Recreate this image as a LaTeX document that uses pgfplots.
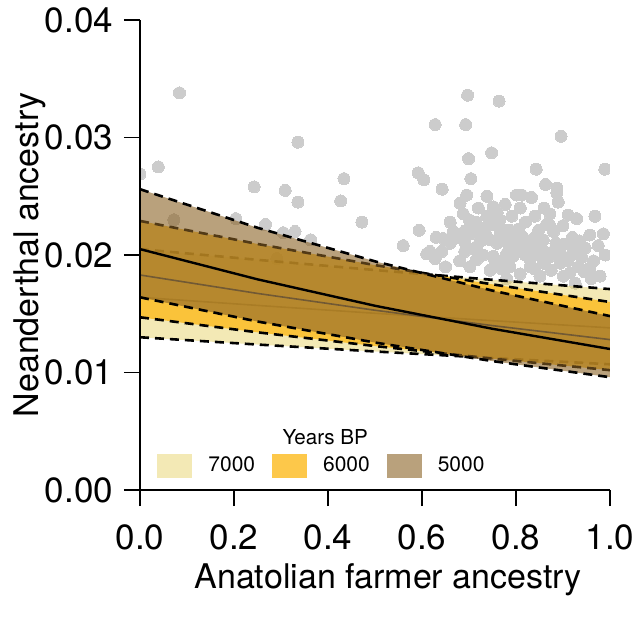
\documentclass[border=0pt]{standalone}
\usepackage{fontspec}
\setmainfont{TeX Gyre Heros}
\usepackage{pgfplots}
\pgfplotsset{compat=1.18}
\definecolor{c7}{RGB}{231,211,107}
\definecolor{c6}{RGB}{252,186,29}
\definecolor{c5}{RGB}{138,98,37}
\definecolor{l7}{RGB}{243,233,181}
\definecolor{l6}{RGB}{253,200,74}
\definecolor{l5}{RGB}{185,161,124}
\definecolor{pts}{RGB}{204,204,204}
\begin{document}
\begin{tikzpicture}
\useasboundingbox (-70pt,-64pt) rectangle (246.5pt,245pt);
\begin{axis}[
  at={(0,0)}, anchor=south west,
  scale only axis, width=235pt, height=235pt,
  xmin=0, xmax=1, ymin=0, ymax=0.04,
  axis lines*=left,
  axis on top,
  clip marker paths=true,
  tick align=outside,
  major tick length=8pt,
  xtick={0,0.2,0.4,0.6,0.8,1},
  ytick={0,0.01,0.02,0.03,0.04},
  scaled y ticks=false, scaled x ticks=false,
  /pgf/number format/assume math mode=true,
  xticklabel style={yshift=-6pt,/pgf/number format/.cd,fixed,fixed zerofill,precision=1},
  yticklabel style={xshift=-2pt,/pgf/number format/.cd,fixed,fixed zerofill,precision=2},
  tick label style={font=\fontsize{17.5}{20}\selectfont},
  axis line style={line width=0.9pt},
  tick style={line width=0.9pt, black},
  every axis x label/.style={at={(axis description cs:0.528,-0.19)}, anchor=center},
  every axis y label/.style={at={(axis description cs:-0.234,0.5)}, rotate=90, anchor=center},
  label style={font=\fontsize{17}{20}\selectfont},
  xlabel={Anatolian farmer ancestry},
  ylabel={Neanderthal ancestry},
  legend style={at={(axis description cs:0.0362,0.0511)}, anchor=west, draw=none, fill=none,
    inner sep=0pt, font=\fontsize{10.5}{12}\selectfont,
    nodes={inner sep=0pt},
    /tikz/every odd column/.append style={column sep=8pt},
    /tikz/every even column/.append style={column sep=8.5pt}},
  legend columns=3,
  legend image code/.code={\fill[#1, draw=none] (0pt,-6pt) rectangle (17.5pt,6pt);},
]
% observed points
\addplot[only marks, mark=*, mark size=3pt, color=pts, mark options={draw=pts, fill=pts, line width=0pt}, forget plot] table {
x y
0.000 0.0269
0.039 0.0275
0.084 0.0338
0.243 0.0258
0.309 0.0255
0.072 0.0230
0.204 0.0231
0.267 0.0226
0.305 0.0219
0.291 0.0197
0.336 0.0296
0.434 0.0265
0.336 0.0245
0.427 0.0246
0.472 0.0228
0.330 0.0220
0.363 0.0213
0.592 0.0270
0.604 0.0264
0.594 0.0221
0.560 0.0208
0.610 0.0201
0.697 0.0336
0.764 0.0331
0.628 0.0311
0.693 0.0311
0.699 0.0282
0.748 0.0287
0.704 0.0265
0.643 0.0256
0.896 0.0301
0.843 0.0273
0.989 0.0273
0.863 0.0260
0.887 0.0257
0.695 0.0251
0.681 0.0244
0.688 0.0235
0.738 0.0250
0.752 0.0241
0.777 0.0243
0.801 0.0251
0.738 0.0233
0.766 0.0230
0.791 0.0233
0.702 0.0224
0.723 0.0221
0.667 0.0220
0.645 0.0214
0.617 0.0203
0.642 0.0203
0.691 0.0211
0.691 0.0203
0.716 0.0207
0.745 0.0213
0.766 0.0218
0.787 0.0221
0.752 0.0199
0.716 0.0196
0.702 0.0190
0.780 0.0201
0.787 0.0190
0.745 0.0187
0.801 0.0207
0.660 0.0210
0.628 0.0197
0.887 0.0253
0.890 0.0245
0.812 0.0251
0.833 0.0249
0.809 0.0240
0.840 0.0233
0.872 0.0235
0.871 0.0226
0.911 0.0234
0.929 0.0231
0.968 0.0233
0.848 0.0221
0.957 0.0217
0.986 0.0218
0.858 0.0213
0.901 0.0209
0.947 0.0206
0.816 0.0207
0.879 0.0203
0.918 0.0200
0.830 0.0196
0.858 0.0193
0.894 0.0193
0.933 0.0190
0.957 0.0189
0.979 0.0182
0.901 0.0182
0.809 0.0184
0.851 0.0182
0.926 0.0176
0.794 0.0199
0.700 0.0230
0.720 0.0240
0.660 0.0228
0.730 0.0200
0.760 0.0210
0.770 0.0195
0.820 0.0228
0.840 0.0215
0.860 0.0240
0.880 0.0220
0.920 0.0215
0.940 0.0198
0.900 0.0225
0.680 0.0195
0.740 0.0225
0.780 0.0180
0.830 0.0190
0.960 0.0180
0.990 0.0200
0.630 0.0215
0.650 0.0190
0.705 0.0218
0.715 0.0228
0.725 0.0212
0.735 0.0218
0.745 0.0230
0.755 0.0226
0.760 0.0236
0.770 0.0222
0.775 0.0212
0.785 0.0208
0.795 0.0214
0.805 0.0222
0.815 0.0215
0.825 0.0205
0.835 0.0210
0.845 0.0200
0.855 0.0205
0.865 0.0226
0.870 0.0198
0.885 0.0210
0.895 0.0200
0.910 0.0195
0.925 0.0205
0.935 0.0212
0.945 0.0186
0.965 0.0195
0.975 0.0208
0.690 0.0220
0.675 0.0215
0.710 0.0205
0.755 0.0195
0.770 0.0188
0.820 0.0200
0.840 0.0188
0.875 0.0187
0.915 0.0185
};
% ---- 7000 BP ----
\addplot[fill=c7, fill opacity=0.5, draw=none, forget plot] coordinates {
(0,0.0205)(0.25,0.01959)(0.5,0.01872)(0.75,0.01789)(1,0.0171)
(1,0.0107)(0.75,0.01123)(0.5,0.01179)(0.25,0.01238)(0,0.0130)};
\addplot[black, line width=1.3pt, dash pattern=on 4.5pt off 3pt, forget plot] coordinates {
(0,0.0205)(0.25,0.01959)(0.5,0.01872)(0.75,0.01789)(1,0.0171)};
\addplot[black, line width=1.3pt, dash pattern=on 4.5pt off 3pt, forget plot] coordinates {
(0,0.0130)(0.25,0.01238)(0.5,0.01179)(0.75,0.01123)(1,0.0107)};
\addplot[black!70, line width=0.8pt, forget plot] coordinates {
(0,0.0164)(0.25,0.01571)(0.5,0.01504)(0.75,0.01441)(1,0.0138)};
% ---- 6000 BP ----
\addplot[fill=c6, fill opacity=0.8, draw=none, forget plot] coordinates {
(0,0.0229)(0.25,0.02094)(0.5,0.01914)(0.75,0.01750)(1,0.0160)
(1,0.0102)(0.75,0.01118)(0.5,0.01225)(0.25,0.01342)(0,0.0147)};
\addplot[black, line width=1.3pt, dash pattern=on 4.5pt off 3pt, forget plot] coordinates {
(0,0.0229)(0.25,0.02094)(0.5,0.01914)(0.75,0.01750)(1,0.0160)};
\addplot[black, line width=1.3pt, dash pattern=on 4.5pt off 3pt, forget plot] coordinates {
(0,0.0147)(0.25,0.01342)(0.5,0.01225)(0.75,0.01118)(1,0.0102)};
\addplot[black!70, line width=0.8pt, forget plot] coordinates {
(0,0.0183)(0.25,0.01673)(0.5,0.01530)(0.75,0.01399)(1,0.0128)};
% ---- 5000 BP ----
\addplot[fill=c5, fill opacity=0.6, draw=none, forget plot] coordinates {
(0,0.0256)(0.25,0.02232)(0.5,0.01946)(0.75,0.01697)(1,0.0148)
(1,0.0096)(0.75,0.01097)(0.5,0.01255)(0.25,0.01434)(0,0.0164)};
\addplot[black, line width=1.3pt, dash pattern=on 4.5pt off 3pt, forget plot] coordinates {
(0,0.0256)(0.25,0.02232)(0.5,0.01946)(0.75,0.01697)(1,0.0148)};
\addplot[black, line width=1.3pt, dash pattern=on 4.5pt off 3pt, forget plot] coordinates {
(0,0.0164)(0.25,0.01434)(0.5,0.01255)(0.75,0.01097)(1,0.0096)};
\addplot[black, line width=1.2pt, forget plot] coordinates {
(0,0.0205)(0.25,0.01793)(0.5,0.01568)(0.75,0.01372)(1,0.0120)};
% legend
\addlegendimage{fill=l7}
\addlegendentry{7000}
\addlegendimage{fill=l6}
\addlegendentry{6000}
\addlegendimage{fill=l5}
\addlegendentry{5000}
\node[font=\fontsize{10.3}{12}\selectfont] at (axis cs:0.394,0.00451) {Years BP};
\end{axis}
\end{tikzpicture}
\end{document}
